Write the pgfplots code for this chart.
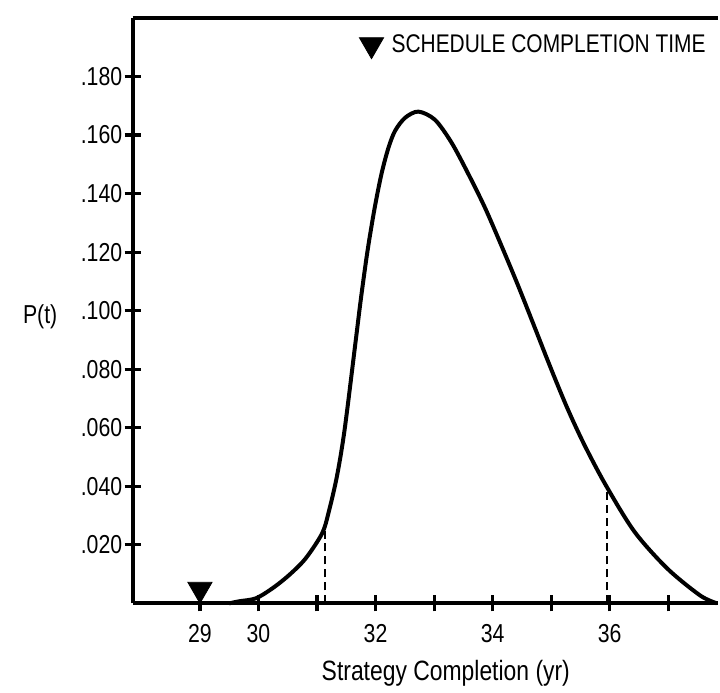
\documentclass[border=0pt]{standalone}
\usepackage{fontspec}
\setmainfont{Liberation Sans}[FakeStretch=0.82]
\usepackage{pgfplots}
\pgfplotsset{compat=1.18}
\begin{document}
\begin{tikzpicture}
\begin{axis}[
  at={(0,0)}, anchor=south west,
  scale only axis,
  width=293.5pt, height=293.5pt,
  xmin=27.85, xmax=37.85, ymin=0, ymax=0.2,
  axis lines*=left,
  axis line style={line width=2pt, -},
  xtick={29,30,31,32,33,34,35,36,37},
  xticklabels={29,30,,32,,34,,36,},
  ytick={0.02,0.04,0.06,0.08,0.10,0.12,0.14,0.16,0.18},
  yticklabels={.020,.040,.060,.080,.100,.120,.140,.160,.180},
  tick align=center,
  major tick length=8pt,
  tick style={line width=1.6pt, black},
  tick label style={font=\fontsize{13}{15}\selectfont},
  xticklabel shift=3pt,
  yticklabel shift=-2.3pt,
  xlabel={Strategy Completion (yr)},
  xlabel style={font=\fontsize{14}{16}\selectfont, at={(axis description cs:0.535,-0.119)}, anchor=center},
  ylabel={P(t)},
  ylabel style={font=\fontsize{13}{15}\selectfont, rotate=-90, at={(axis description cs:-0.158,0.489)}, anchor=center},
  legend style={draw=none, fill=none, at={(axis description cs:1,1)}, anchor=north east, xshift=1pt, yshift=-4pt, font=\fontsize{12.8}{14}\selectfont, nodes={inner xsep=4pt}},
  clip=false,
]
\addplot[forget plot, line width=2pt, smooth, tension=0.5] coordinates {
(29.50,0) (29.67,0.0007) (29.954,0.0017) (30.236,0.0051) (30.520,0.0096)
(30.804,0.0153) (31.087,0.0239) (31.201,0.0313) (31.342,0.0436) (31.473,0.0596)
(31.660,0.0896) (31.753,0.1046) (31.864,0.1206) (31.983,0.1349) (32.102,0.1468)
(32.221,0.1557) (32.335,0.1615) (32.505,0.1659) (32.731,0.1680) (33.015,0.1652)
(33.298,0.1574) (33.582,0.1468) (33.866,0.1353) (34.148,0.1223) (34.432,0.1087)
(34.716,0.0944) (34.998,0.0801) (35.282,0.0664) (35.566,0.0542) (35.929,0.0405)
(36.422,0.0245) (36.983,0.0119) (37.544,0.0027) (37.833,0)
};
\addplot[forget plot, line width=1.1pt, dash pattern=on 4pt off 2.5pt] coordinates {(31.14,0) (31.14,0.026)};
\addplot[forget plot, line width=1.1pt, dash pattern=on 4pt off 2.5pt] coordinates {(35.95,0) (35.95,0.040)};
\addplot[only marks, mark=triangle*, mark size=7pt, mark options={rotate=180, fill=black, draw=black}] coordinates {(29,0.0048)};
\addlegendentry{SCHEDULE COMPLETION TIME}
\draw[line width=2pt] (rel axis cs:0,1) -- (rel axis cs:1,1);
\end{axis}
\path[use as bounding box] (-66.5pt,-41.5pt) rectangle (293.5pt,302.5pt);
\end{tikzpicture}
\end{document}
